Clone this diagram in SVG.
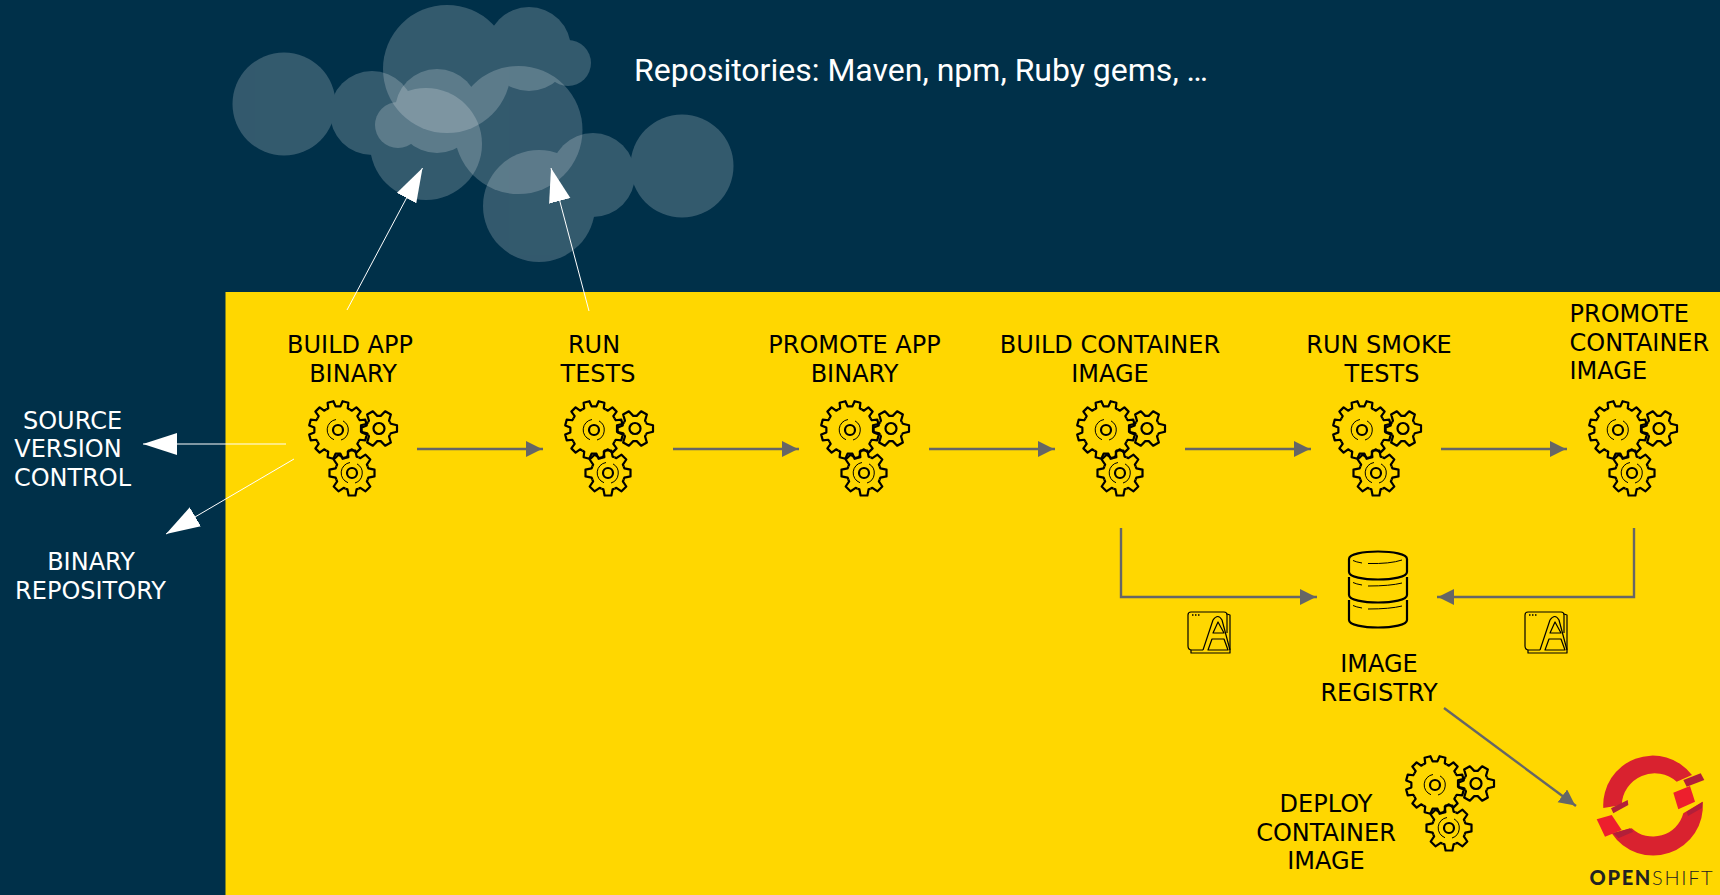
<svg xmlns="http://www.w3.org/2000/svg" xmlns:xlink="http://www.w3.org/1999/xlink" width="1720" height="895" viewBox="0 0 1720 895">
<style>
.t{font-family:"DejaVu Sans",sans-serif;font-size:24px;text-anchor:middle;fill:#000}
.w{fill:#fff}
.l{text-anchor:start}
.cl{fill:#fff;opacity:.2}
.gs{fill:none;stroke:#000;stroke-width:2.2;stroke-linejoin:round}
.gt{fill:none;stroke:#000;stroke-width:1}
.g2{fill:none;stroke:#666;stroke-width:2.4}
.w1{fill:none;stroke:#fff;stroke-width:1}
.ic{fill:none;stroke:#000;stroke-width:1.2;stroke-linejoin:round}
</style>
<defs>
<marker id="ag" markerUnits="userSpaceOnUse" markerWidth="18" markerHeight="18" refX="17" refY="8" orient="auto"><path d="M0,0L16,8L0,16Z" fill="#666"/></marker>
<marker id="aw" markerUnits="userSpaceOnUse" markerWidth="36" markerHeight="24" refX="34" refY="11" orient="auto"><path d="M0,0L34,11L0,22Z" fill="#fff"/></marker>
<path id="t12" d="M-6.100,-22.800L-3.800,-23.500L-3,-29L3,-29L3.800,-23.500L6.100,-22.800"/>
<path id="t8" d="M-6.500,-15.700L-4.600,-16.400L-3.400,-22.500L3.400,-22.500L4.600,-16.400L6.500,-15.700"/>
<path id="t6" d="M-6.300,-10.900L-4.800,-11.800L-3.300,-18L3.300,-18L4.800,-11.800L6.300,-10.900"/>
<g id="gear">
<g class="gs" transform="translate(338,430)">
<use xlink:href="#t12" transform="rotate(15)"/><use xlink:href="#t12" transform="rotate(45)"/><use xlink:href="#t12" transform="rotate(75)"/><use xlink:href="#t12" transform="rotate(105)"/><use xlink:href="#t12" transform="rotate(135)"/><use xlink:href="#t12" transform="rotate(165)"/><use xlink:href="#t12" transform="rotate(195)"/><use xlink:href="#t12" transform="rotate(225)"/><use xlink:href="#t12" transform="rotate(255)"/><use xlink:href="#t12" transform="rotate(285)"/><use xlink:href="#t12" transform="rotate(315)"/><use xlink:href="#t12" transform="rotate(345)"/>
<circle r="5"/>
<path class="gt" d="M-2,-10.500A10.500,10.500 0 0 0 -4,9.700M3,10A10.500,10.500 0 0 0 5,-9.100"/>
</g>
<g class="gs" transform="translate(379,428.500)">
<use xlink:href="#t6" transform="rotate(30)"/><use xlink:href="#t6" transform="rotate(90)"/><use xlink:href="#t6" transform="rotate(150)"/><use xlink:href="#t6" transform="rotate(210)"/><use xlink:href="#t6" transform="rotate(270)"/><use xlink:href="#t6" transform="rotate(330)"/>
<circle r="5.500"/>
</g>
<g class="gs" transform="translate(352,473)">
<use xlink:href="#t8"/><use xlink:href="#t8" transform="rotate(45)"/><use xlink:href="#t8" transform="rotate(90)"/><use xlink:href="#t8" transform="rotate(135)"/><use xlink:href="#t8" transform="rotate(180)"/><use xlink:href="#t8" transform="rotate(225)"/><use xlink:href="#t8" transform="rotate(270)"/><use xlink:href="#t8" transform="rotate(315)"/>
<circle r="5"/>
<path class="gt" d="M-2,-10.500A10.500,10.500 0 0 0 -4,9.700M3,10A10.500,10.500 0 0 0 5,-9.100"/>
</g>
</g>
<g id="doc" class="ic">
<path d="M33,50H22Q18,50 18,46V15Q18,12 21,12H54Q57,12 57,15V33"/>
<path d="M21,50V53H60V15L57,14"/>
<path d="M33,50L43,20Q48,13 52,20L60,50"/>
<path d="M48,22L43,33H54Z"/>
<path d="M42,39H54L58,50H38Z"/>
<path d="M22,15h1.500M25,15h1.500M28,15h1.500" stroke-width="1.400"/>
</g>
</defs>
<rect id="background" width="1720" height="895" fill="#003049"/>
<rect id="stage" x="225.500" y="292" width="1494.500" height="603" fill="#ffd700"/>
<g id="clouds">
<g class="cl"><circle cx="447" cy="69" r="64"/><circle cx="529" cy="49" r="42"/><circle cx="568" cy="63" r="23"/></g>
<g class="cl"><circle cx="284" cy="104" r="51.500"/><circle cx="372" cy="113" r="42"/><circle cx="426" cy="144" r="56"/></g>
<g class="cl"><circle cx="398" cy="125" r="23"/><circle cx="437" cy="111" r="42"/><circle cx="518.500" cy="130" r="64"/></g>
<g class="cl"><circle cx="539" cy="206" r="56"/><circle cx="593" cy="175" r="42"/><circle cx="682" cy="166" r="51.500"/></g>
</g>
<g id="repositories"><text x="634" y="81" style="font-family:Roboto,sans-serif;font-size:32px;fill:#fff">Repositories: Maven, npm, Ruby gems, …</text></g>
<g id="connectors">
<path class="w1" d="M347,310L422.500,168" marker-end="url(#aw)"/>
<path class="w1" d="M589,311L551,168" marker-end="url(#aw)"/>
<path class="w1" d="M286,444H143" marker-end="url(#aw)"/>
<path class="w1" d="M294,459L166,534" marker-end="url(#aw)"/>
<path class="g2" d="M417,449H543" marker-end="url(#ag)"/>
<path class="g2" d="M673,449H799" marker-end="url(#ag)"/>
<path class="g2" d="M929,449H1055" marker-end="url(#ag)"/>
<path class="g2" d="M1185,449H1311" marker-end="url(#ag)"/>
<path class="g2" d="M1441,449H1567" marker-end="url(#ag)"/>
<path class="g2" d="M1121,528V597H1317" marker-end="url(#ag)"/>
<path class="g2" d="M1634,528V597H1437" marker-end="url(#ag)"/>
<path class="g2" d="M1444,708L1576,806" marker-end="url(#ag)"/>
</g>
<g id="build-app"><text class="t" x="350" y="353">BUILD APP</text><text class="t" x="353" y="382">BINARY</text><use xlink:href="#gear"/></g>
<g id="run-tests"><text class="t" x="594" y="353">RUN</text><text class="t" x="598" y="382">TESTS</text><use xlink:href="#gear" x="256"/></g>
<g id="promote-app"><text class="t" x="854.500" y="353">PROMOTE APP</text><text class="t" x="854.500" y="382">BINARY</text><use xlink:href="#gear" x="512"/></g>
<g id="build-container"><text class="t" x="1110" y="353">BUILD CONTAINER</text><text class="t" x="1110" y="382">IMAGE</text><use xlink:href="#gear" x="768"/></g>
<g id="run-smoke"><text class="t" x="1379" y="353">RUN SMOKE</text><text class="t" x="1382" y="382">TESTS</text><use xlink:href="#gear" x="1024"/></g>
<g id="promote-container"><text class="t l" x="1569.500" y="322">PROMOTE</text><text class="t l" x="1569.500" y="351">CONTAINER</text><text class="t l" x="1569.500" y="379">IMAGE</text><use xlink:href="#gear" x="1280"/></g>
<g id="source"><text class="t w" x="72.500" y="429">SOURCE</text><text class="t w" x="68" y="457">VERSION</text><text class="t w" x="72.500" y="486">CONTROL</text></g>
<g id="binary-repository"><text class="t w" x="91" y="570">BINARY</text><text class="t w" x="90.500" y="599">REPOSITORY</text></g>
<g id="image-registry">
<g class="gs"><path d="M1349,559C1349,549 1407,549 1407,559V572C1407,582 1349,582 1349,572Z"/><path d="M1349,577V595C1349,605 1407,605 1407,595V577"/><path d="M1349,600V620C1349,630 1407,630 1407,620V600"/><path class="gt" d="M1353,560.500Q1356,562 1362,563M1368,563.500Q1390,564 1402,560M1353,582.500Q1356,584 1362,585M1368,586Q1390,586 1402,583M1353,605.500Q1356,607 1362,608M1368,609Q1390,609 1402,606"/></g>
<text class="t" x="1379" y="672">IMAGE</text><text class="t" x="1379" y="701">REGISTRY</text></g>
<g id="image-a"><use xlink:href="#doc" x="1170" y="600"/></g>
<g id="image-b"><use xlink:href="#doc" x="1507" y="600"/></g>
<g id="deploy"><text class="t" x="1326" y="812">DEPLOY</text><text class="t" x="1326" y="841">CONTAINER</text><text class="t" x="1326" y="869">IMAGE</text><use xlink:href="#gear" x="1097" y="355"/></g>
<g id="openshift">
<path fill="#d9222f" d="M1603.300,808A49.500,49.500 0 0 1 1692,775L1676.700,781.700A33,33 0 0 0 1621.700,805Z"/>
<path fill="#d9222f" d="M1702.700,801.700A49.700,49.700 0 0 1 1611.700,833.300L1631.700,828.300A31.400,31.400 0 0 0 1683.300,813.300Z"/>
<path fill="#ed1f2d" d="M1596.700,819.300L1611.700,815L1621.700,830L1605,836.700Z"/>
<path fill="#ed1f2d" d="M1673.300,792.700L1690,786L1695,801.700L1678.300,809.300Z"/>
<path fill="#b21f39" d="M1611,808.300L1627.700,800L1628.300,805L1613.300,813.300Z"/>
<path fill="#b21f39" d="M1683.300,780L1700.700,773.300L1704.300,780L1686.700,786.700Z"/>
<path fill="#b21f39" d="M1686.700,811.700L1702.700,801.700L1702,808L1688,816Z"/>
<path fill="#b21f39" d="M1613.300,833.300L1630,828.300L1633.300,831.700L1618.300,838.300Z"/>
<text x="1589.500" y="885" style="font-family:Lato,sans-serif;font-size:20px;letter-spacing:1.700px;fill:#222"><tspan font-weight="900">OPEN</tspan><tspan font-weight="300">SHIFT</tspan></text>
</g>
</svg>
